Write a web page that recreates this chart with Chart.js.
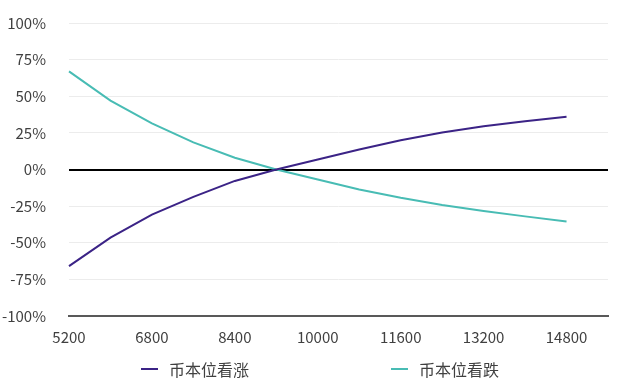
<!DOCTYPE html>
<html>
<head>
<meta charset="utf-8">
<script src="https://cdn.jsdelivr.net/npm/chart.js@4/dist/chart.umd.min.js"></script>
<style>
  html, body { margin: 0; padding: 0; background: #fff; }
  #wrap { position: relative; width: 640px; height: 381px; }
  canvas { position: absolute; left: 0; top: 0; }
  .lg { position: absolute; top: 358px; height: 22px; display: flex; align-items: center;
        font-family: "Noto Sans CJK SC", "Noto Sans", sans-serif; font-size: 16px; color: #404040; }
  .lg i { display: inline-block; width: 17px; height: 2px; margin-right: 11px; }
</style>
</head>
<body>
<div id="wrap">
  <canvas id="c" width="640" height="381"></canvas>
  <div class="lg" id="lg0" style="left:141px"><i></i><span></span></div>
  <div class="lg" id="lg1" style="left:391px"><i></i><span></span></div>
</div>
<script>
const categories = [5200, 6000, 6800, 7600, 8400, 9200, 10000, 10800, 11600, 12400, 13200, 14000, 14800, 15600];
const seriesNames = ['币本位看涨', '币本位看跌'];
const longValues  = [-66, -46.5, -30.8, -18.7, -7.8, 0, 6.8, 13.6, 20, 25.2, 29.5, 33, 36, null];
const shortValues = [67, 47, 31.5, 18.5, 8, 0, -6.8, -13.6, -19.3, -24.3, -28.4, -32, -35.5, null];
const yTicks = [-100, -75, -50, -25, 0, 25, 50, 75, 100];
const colors = ['#3b2386', '#48bcb4'];

const font = { family: '"Noto Sans CJK SC", "Noto Sans", sans-serif', size: 15 };

const chart = new Chart(document.getElementById('c'), {
  type: 'line',
  data: {
    labels: categories.map(String),
    datasets: [
      { label: seriesNames[0], data: longValues, borderColor: colors[0], backgroundColor: colors[0],
        borderWidth: 2, pointRadius: 0, tension: 0, spanGaps: false },
      { label: seriesNames[1], data: shortValues, borderColor: colors[1], backgroundColor: colors[1],
        borderWidth: 2, pointRadius: 0, tension: 0, spanGaps: false }
    ]
  },
  options: {
    responsive: false,
    animation: false,
    layout: { padding: { left: 0, right: 32, top: 23, bottom: 26 } },
    plugins: { legend: { display: false }, tooltip: { enabled: false } },
    scales: {
      x: {
        offset: false,
        grid: { display: false, drawTicks: false, tickLength: 0 },
        border: { display: true, color: '#595959', width: 2 },
        ticks: {
          autoSkip: false, maxRotation: 0, padding: 12, color: '#404040', font: font,
          callback: function (v, i) { return i % 2 === 0 ? this.getLabelForValue(v) : ''; }
        },
        afterFit: (s) => { s.height = 39; }
      },
      y: {
        min: -100, max: 100,
        afterBuildTicks: (s) => { s.ticks = yTicks.map(v => ({ value: v })); },
        border: { display: false },
        grid: {
          drawTicks: false,
          color: (ctx) => ctx.tick && ctx.tick.value === 0 ? '#000000' : (ctx.tick && ctx.tick.value === -100 ? 'rgba(0,0,0,0)' : '#ececec'),
          lineWidth: (ctx) => ctx.tick && ctx.tick.value === 0 ? 2 : 1
        },
        ticks: { padding: 23, color: '#404040', font: font, callback: (v) => v + '%' },
        afterFit: (s) => { s.width = 69; s.paddingTop = 0; s.paddingBottom = 0; }
      }
    }
  }
});

chart.data.datasets.forEach((ds, i) => {
  const el = document.getElementById('lg' + i);
  el.querySelector('i').style.background = ds.borderColor;
  el.querySelector('span').textContent = ds.label;
});
</script>
</body>
</html>
